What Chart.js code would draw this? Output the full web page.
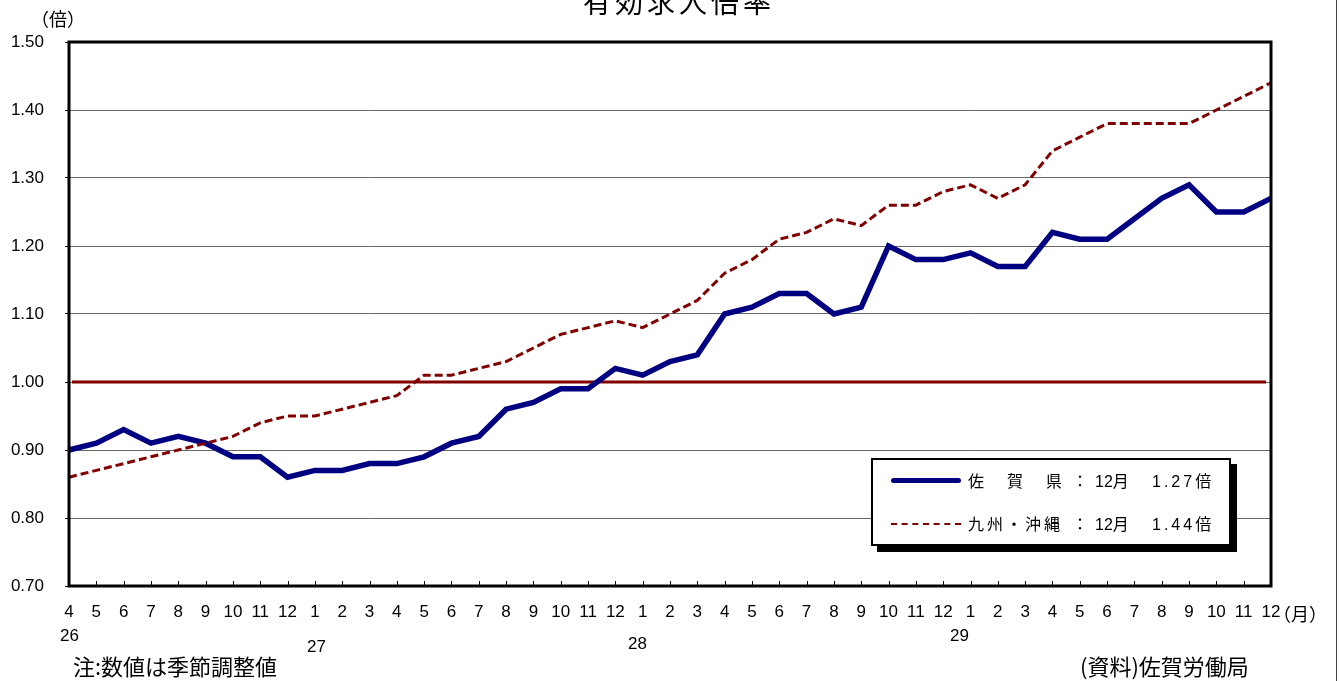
<!DOCTYPE html>
<html lang="ja">
<head>
<meta charset="utf-8">
<title>有効求人倍率</title>
<script src="https://cdn.jsdelivr.net/npm/chart.js@4.4.1/dist/chart.umd.min.js"></script>
<style>
  html, body { margin: 0; padding: 0; background: #fff; }
  #wrap { position: relative; width: 1340px; height: 681px; overflow: hidden; background: #fff;
          font-family: 'Noto Sans CJK JP', sans-serif; color: #000; }
  #c { position: absolute; left: 0; top: 0; }
  .t { position: absolute; white-space: nowrap; line-height: 1; }
  #title { left: 583px; top: -13px; font-size: 28px; letter-spacing: 4px; }
  #unitY { left: 31px; top: 9px; font-size: 18px; }
  #unitX { left: 1273px; top: 604px; font-size: 18px; }
  .year { font-family: 'Liberation Sans', Arial, sans-serif; font-size: 17px; }
  #note { left: 73px; top: 654px; font-size: 22px; }
  #source { left: 1080px; top: 654px; font-size: 22px; }
  #edge { position: absolute; left: 1336px; top: 0; width: 1px; height: 681px; background: #444; }
  #legend { position: absolute; left: 871px; top: 458px; width: 356px; height: 84px;
            border: 2px solid #000; background: #fff; box-shadow: 6px 6px 0 #000; }
  .row { position: absolute; left: 0; width: 356px; height: 16px; font-size: 16px; line-height: 1; }
  .row > div { position: absolute; white-space: nowrap; }
  .row .sample { left: 18px; width: 70px; }
  .row .name { left: 95px; top: 0; }
  .row .colon { left: 199px; top: 0; }
  .row .month { left: 222px; top: 0; }
  .row .month b { font-weight: normal; font-family: 'Liberation Sans', Arial, sans-serif; }
  .row .val { left: 279px; top: 0; }
  .row .val b { font-weight: normal; letter-spacing: 3px; font-family: 'Liberation Sans', Arial, sans-serif; }
</style>
</head>
<body>
<div id="wrap">
  <canvas id="c" width="1340" height="681"></canvas>
  <div class="t" id="title">有効求人倍率</div>
  <div class="t" id="unitY">（倍）</div>
  <div class="t" id="unitX">（月）</div>
  <div class="t year" style="left:60px;top:627px;">26</div>
  <div class="t year" style="left:307px;top:638px;">27</div>
  <div class="t year" style="left:628px;top:635px;">28</div>
  <div class="t year" style="left:950px;top:627px;">29</div>
  <div class="t" id="note">注:数値は季節調整値</div>
  <div class="t" id="source">(資料)佐賀労働局</div>
  <div id="edge"></div>
  <div id="legend">
    <div class="row" style="top:12px;">
      <div class="sample" style="top:6px;border-top:5px solid #000080;border-radius:3px;"></div>
      <div class="name" style="letter-spacing:23px;">佐賀県</div>
      <div class="colon">：</div>
      <div class="month" id="m1"></div>
      <div class="val" id="v1"></div>
    </div>
    <div class="row" style="top:55px;">
      <div class="sample" style="top:8px;border-top:2px dashed #800000;"></div>
      <div class="name" style="letter-spacing:3px;">九州・沖縄</div>
      <div class="colon">：</div>
      <div class="month" id="m2"></div>
      <div class="val" id="v2"></div>
    </div>
  </div>
</div>
<script>
// Month labels, 平成26年4月 – 平成29年12月
const monthLabels = [
  '4','5','6','7','8','9','10','11','12',
  '1','2','3','4','5','6','7','8','9','10','11','12',
  '1','2','3','4','5','6','7','8','9','10','11','12',
  '1','2','3','4','5','6','7','8','9','10','11','12'
];

// 佐賀県 (seasonally adjusted)
const sagaValues = [
  0.90, 0.91, 0.93, 0.91, 0.92, 0.91, 0.89, 0.89, 0.86,
  0.87, 0.87, 0.88, 0.88, 0.89, 0.91, 0.92, 0.96, 0.97, 0.99, 0.99, 1.02,
  1.01, 1.03, 1.04, 1.10, 1.11, 1.13, 1.13, 1.10, 1.11, 1.20, 1.18, 1.18,
  1.19, 1.17, 1.17, 1.22, 1.21, 1.21, 1.24, 1.27, 1.29, 1.25, 1.25, 1.27
];

// 九州・沖縄 (seasonally adjusted)
const kyushuValues = [
  0.86, 0.87, 0.88, 0.89, 0.90, 0.91, 0.92, 0.94, 0.95,
  0.95, 0.96, 0.97, 0.98, 1.01, 1.01, 1.02, 1.03, 1.05, 1.07, 1.08, 1.09,
  1.08, 1.10, 1.12, 1.16, 1.18, 1.21, 1.22, 1.24, 1.23, 1.26, 1.26, 1.28,
  1.29, 1.27, 1.29, 1.34, 1.36, 1.38, 1.38, 1.38, 1.38, 1.40, 1.42, 1.44
];

// Y axis range and the 1.00 reference level
const yMin = 0.70;
const yMax = 1.50;
const yStep = 0.10;
const referenceLevel = 1.00;

// Legend text taken from the latest month of each series
const lastIdx = monthLabels.length - 1;
const monthHtml = '<b>' + monthLabels[lastIdx] + '</b>月';
document.getElementById('m1').innerHTML = monthHtml;
document.getElementById('m2').innerHTML = monthHtml;
document.getElementById('v1').innerHTML = '<b>' + sagaValues[lastIdx].toFixed(2) + '</b>倍';
document.getElementById('v2').innerHTML = '<b>' + kyushuValues[lastIdx].toFixed(2) + '</b>倍';

const tickFont = { family: "'Liberation Sans', Arial, sans-serif", size: 17 };

// Reference line, thick plot frame and inward month tick marks
const framePlugin = {
  id: 'frame',
  beforeDatasetsDraw(chart) {
    const { ctx, chartArea: a, scales: { y } } = chart;
    const yy = y.getPixelForValue(referenceLevel);
    ctx.save();
    ctx.strokeStyle = '#800000';
    ctx.lineWidth = 3;
    ctx.beginPath();
    ctx.moveTo(a.left + 3, yy);
    ctx.lineTo(a.right - 5, yy);
    ctx.stroke();
    ctx.restore();
  },
  afterDatasetsDraw(chart) {
    const { ctx, chartArea: a, scales: { x } } = chart;
    ctx.save();
    ctx.strokeStyle = '#000';
    ctx.lineWidth = 1;
    ctx.beginPath();
    for (let i = 1; i < monthLabels.length - 1; i++) {
      const px = Math.round(x.getPixelForValue(i)) + 0.5;
      ctx.moveTo(px, a.bottom);
      ctx.lineTo(px, a.bottom - 5);
    }
    ctx.stroke();
    ctx.lineWidth = 3;
    ctx.strokeRect(a.left, a.top, a.right - a.left, a.bottom - a.top);
    ctx.restore();
  }
};

new Chart(document.getElementById('c'), {
  type: 'line',
  data: {
    labels: monthLabels,
    datasets: [
      {
        label: '九州・沖縄',
        data: kyushuValues,
        borderColor: '#800000',
        borderWidth: 3,
        borderDash: [8, 4],
        pointRadius: 0,
        tension: 0,
        fill: false
      },
      {
        label: '佐賀県',
        data: sagaValues,
        borderColor: '#000080',
        borderWidth: 5.5,
        pointRadius: 0,
        tension: 0,
        fill: false,
        borderJoinStyle: 'miter'
      }
    ]
  },
  options: {
    responsive: false,
    animation: false,
    devicePixelRatio: 1,
    layout: { padding: { left: 0, top: 42, right: 69, bottom: 0 } },
    plugins: { legend: { display: false }, tooltip: { enabled: false }, title: { display: false } },
    scales: {
      x: {
        type: 'category',
        offset: false,
        grid: { display: false, drawTicks: false },
        border: { display: false },
        ticks: { autoSkip: false, maxRotation: 0, minRotation: 0, padding: 16, color: '#000', font: tickFont },
        afterFit(scale) { scale.height = 95; }
      },
      y: {
        min: yMin,
        max: yMax,
        border: { display: false },
        grid: {
          color: '#666',
          lineWidth: 1,
          borderDash: [1, 1],
          drawTicks: true,
          tickLength: 4,
          tickColor: '#000',
          tickBorderDash: []
        },
        ticks: {
          stepSize: yStep,
          padding: 21,
          color: '#000',
          font: tickFont,
          callback: (v) => Number(v).toFixed(2)
        },
        afterFit(scale) { scale.width = 69; }
      }
    }
  },
  plugins: [framePlugin]
});
</script>
</body>
</html>
